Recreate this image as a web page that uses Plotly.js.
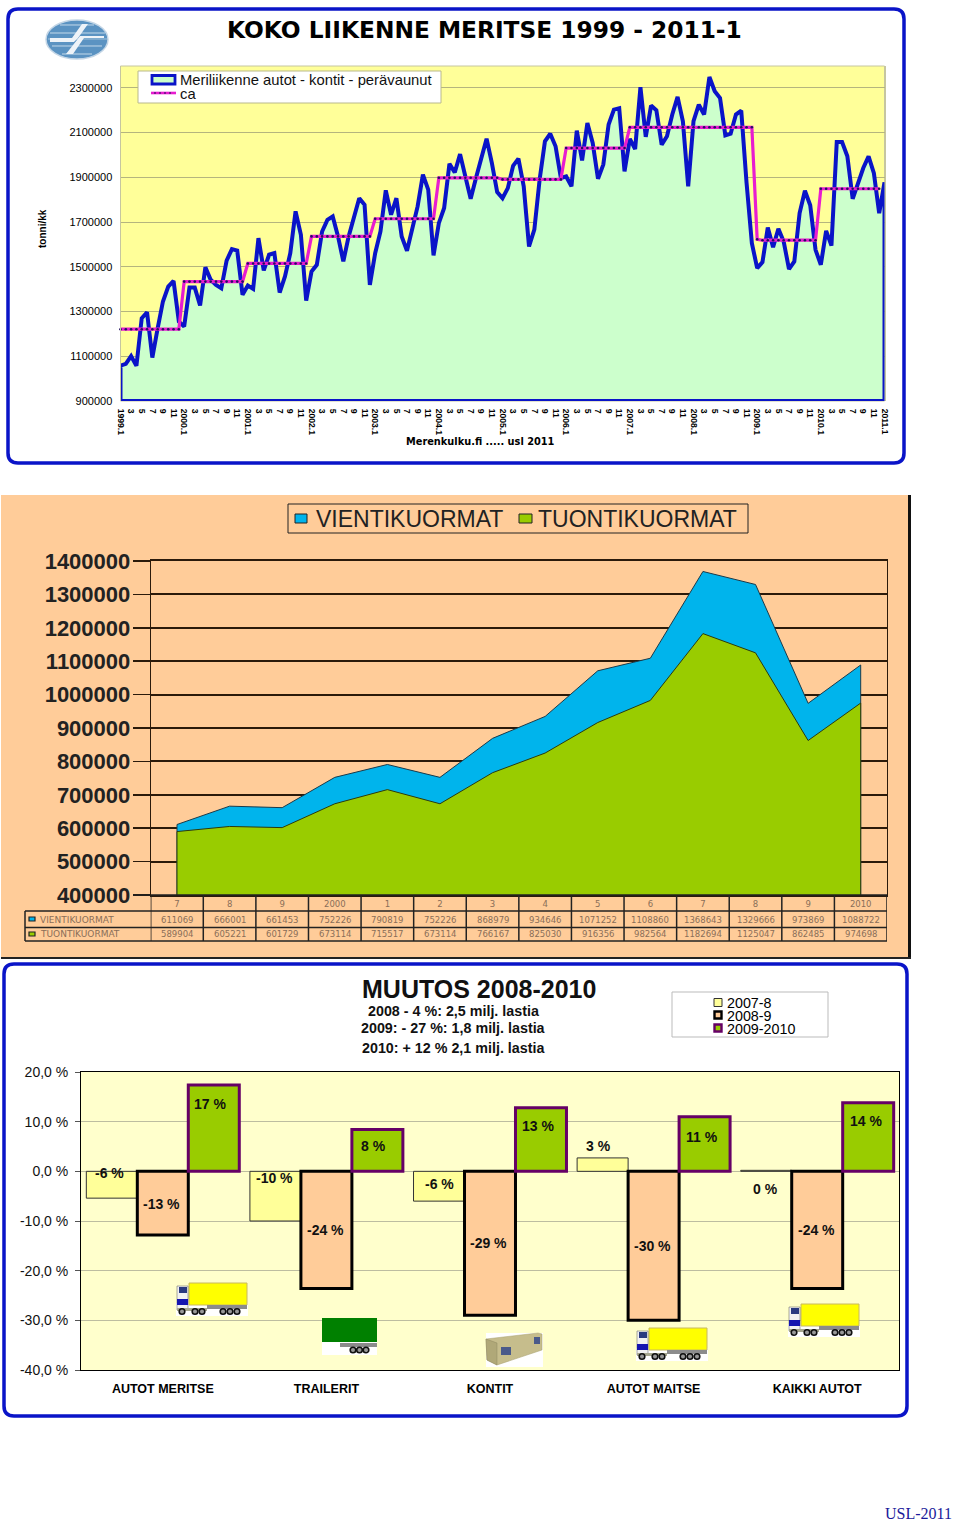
<!DOCTYPE html>
<html><head><meta charset="utf-8">
<script src="https://cdn.plot.ly/plotly-3.0.1.min.js"></script>
<style>html,body{margin:0;padding:0;background:#fff}</style></head>
<body><div id="c" style="width:960px;height:1523px"></div>
<script>
// Chart 1: monthly sea traffic 1999.1 - 2011.1 (tonnes)
const seaTraffic = [
1058000,1066000,1101000,1057000,1270000,1297000,1094000,1225000,1345000,1412000,1437000,1255000,
1233000,1407000,1407000,1327000,1498000,1442000,1419000,1404000,1528000,1579000,1573000,1375000,
1416000,1401000,1628000,1484000,1554000,1561000,1385000,1457000,1561000,1748000,1643000,1349000,
1479000,1509000,1658000,1710000,1725000,1636000,1524000,1636000,1725000,1807000,1778000,1419000,
1561000,1658000,1842000,1733000,1807000,1636000,1572000,1666000,1770000,1912000,1845000,1551000,
1695000,1763000,1961000,1922000,2004000,1904000,1804000,1897000,1987000,2073000,1964000,1834000,
1807000,1852000,1952000,1984000,1860000,1591000,1666000,1890000,2061000,2095000,2039000,1897000,
1904000,1860000,2109000,1976000,2143000,2054000,1894000,1957000,2136000,2203000,2209000,1927000,
2072000,2027000,2303000,2081000,2221000,2200000,2046000,2084000,2181000,2260000,2151000,1860000,
2151000,2225000,2181000,2349000,2285000,2255000,2088000,2095000,2181000,2198000,1875000,1606000,
1494000,1521000,1676000,1588000,1670000,1613000,1490000,1524000,1740000,1840000,1775000,1576000,
1509000,1661000,1595000,2058000,2058000,1994000,1804000,1875000,1942000,1994000,1919000,1740000,
1878000];
const yearAverage = [
1221000,1221000,1221000,1221000,1221000,1221000,1221000,1221000,1221000,1221000,1221000,1221000,
1434000,1434000,1434000,1434000,1434000,1434000,1434000,1434000,1434000,1434000,1434000,1434000,
1515000,1515000,1515000,1515000,1515000,1515000,1515000,1515000,1515000,1515000,1515000,1515000,
1636000,1636000,1636000,1636000,1636000,1636000,1636000,1636000,1636000,1636000,1636000,1636000,
1715000,1715000,1715000,1715000,1715000,1715000,1715000,1715000,1715000,1715000,1715000,1715000,
1898000,1898000,1898000,1898000,1898000,1898000,1898000,1898000,1898000,1898000,1898000,1898000,
1891000,1891000,1891000,1891000,1891000,1891000,1891000,1891000,1891000,1891000,1891000,1891000,
2031000,2031000,2031000,2031000,2031000,2031000,2031000,2031000,2031000,2031000,2031000,2031000,
2124000,2124000,2124000,2124000,2124000,2124000,2124000,2124000,2124000,2124000,2124000,2124000,
2124000,2124000,2124000,2124000,2124000,2124000,2124000,2124000,2124000,2124000,2124000,2124000,
1623000,1619000,1619000,1619000,1619000,1619000,1619000,1619000,1619000,1619000,1619000,1619000,
1849000,1849000,1849000,1849000,1849000,1849000,1849000,1849000,1849000,1849000,1849000,1849000];
const monthTickLabels = [
"1999.1","3","5","7","9","11","2000.1","3","5","7","9","11","2001.1","3","5","7","9","11",
"2002.1","3","5","7","9","11","2003.1","3","5","7","9","11","2004.1","3","5","7","9","11",
"2005.1","3","5","7","9","11","2006.1","3","5","7","9","11","2007.1","3","5","7","9","11",
"2008.1","3","5","7","9","11","2009.1","3","5","7","9","11","2010.1","3","5","7","9","11","2011.1"];
const monthTickVals = [
0,2,4,6,8,10,12,14,16,18,20,22,24,26,28,30,32,34,36,38,40,42,44,46,48,50,52,54,56,58,60,62,64,66,68,70,
72,74,76,78,80,82,84,86,88,90,92,94,96,98,100,102,104,106,108,110,112,114,116,118,120,122,124,126,128,130,132,134,136,138,140,142,144];
const seaTicks = [900000,1100000,1300000,1500000,1700000,1900000,2100000,2300000];

// Chart 2: export and import loads
const loadCategories = ["7","8","9","2000","1","2","3","4","5","6","7","8","9","2010"];
const exportLoads = [611069,666001,661453,752226,790819,752226,868979,934646,1071252,1108860,1368643,1329666,973869,1088722];
const importLoads = [589904,605221,601729,673114,715517,673114,766167,825030,916356,982564,1182694,1125047,862485,974698];
const loadTicks = [400000,500000,600000,700000,800000,900000,1000000,1100000,1200000,1300000,1400000];

// Chart 3: yearly change by cargo type
const changeCategories = ["AUTOT MERITSE","TRAILERIT","KONTIT","AUTOT MAITSE","KAIKKI AUTOT"];
const change2007 = [-5.4,-10,-6,2.7,0.2];
const change2008 = [-12.8,-23.6,-29,-30,-23.6];
const change2009 = [17.4,8.4,12.8,11,13.8];
const changeTicks = [-40,-30,-20,-10,0,10,20];
const changeTickText = ["-40,0 %","-30,0 %","-20,0 %","-10,0 %","0,0 %","10,0 %","20,0 %"];

const W=960,H=1523;
const X=x=>x/W, Y=y=>1-y/H;
const AR='Liberation Sans, Arial, sans-serif';
const shapes=[], ann=[];
const idx=seaTraffic.map((_,i)=>i);
const idxA=yearAverage.map((_,i)=>i);
const lastI=idx[idx.length-1];
const base1=seaTicks[0];
const li=loadCategories.map((_,i)=>i);
const base2=loadTicks[0];

function rrect(x0,y0,x1,y1,r,line,w,fill,layer){
  const p=(x,y)=>X(x).toFixed(5)+','+Y(y).toFixed(5);
  const d='M'+p(x0+r,y0)+'L'+p(x1-r,y0)+'Q'+p(x1,y0)+' '+p(x1,y0+r)+'L'+p(x1,y1-r)+'Q'+p(x1,y1)+' '+p(x1-r,y1)+
    'L'+p(x0+r,y1)+'Q'+p(x0,y1)+' '+p(x0,y1-r)+'L'+p(x0,y0+r)+'Q'+p(x0,y0)+' '+p(x0+r,y0)+'Z';
  shapes.push({type:'path',xref:'paper',yref:'paper',path:d,line:{color:line,width:w},fillcolor:fill||'rgba(0,0,0,0)',layer:layer||'below'});
}
function rect(x0,y0,x1,y1,fill,line,w,layer){
  shapes.push({type:'rect',xref:'paper',yref:'paper',x0:X(x0),x1:X(x1),y0:Y(y0),y1:Y(y1),fillcolor:fill,
    line:{color:line||'rgba(0,0,0,0)',width:line?(w||1):0},layer:layer||'above'});
}
function circ(cx,cy,r,fill,line,w,ry){
  ry=ry||r;
  shapes.push({type:'circle',xref:'paper',yref:'paper',x0:X(cx-r),x1:X(cx+r),y0:Y(cy-ry),y1:Y(cy+ry),fillcolor:fill,
    line:{color:line||'rgba(0,0,0,0)',width:line?(w||1):0},layer:'above'});
}
function poly(pts,fill,line,w){
  const d='M'+pts.map(p=>X(p[0]).toFixed(5)+','+Y(p[1]).toFixed(5)).join('L')+(fill?'Z':'');
  shapes.push({type:'path',xref:'paper',yref:'paper',path:d,fillcolor:fill||'rgba(0,0,0,0)',
    line:{color:line||'rgba(0,0,0,0)',width:line?(w||1):0},layer:'above'});
}
function txt(x,y,t,size,o){
  o=o||{};
  ann.push({xref:'paper',yref:'paper',x:X(x),y:Y(y),text:t,showarrow:false,xanchor:o.a||'center',yanchor:'middle',
    textangle:o.rot||0,align:o.a||'center',
    font:{family:o.f||AR,size:size,color:o.c||'#000',weight:o.b?700:400}});
}
function truck(ox,oy){
  rect(ox,oy+20,ox+72,oy+33,'#ffffff');
  rect(ox+13,oy,ox+71,oy+22,'#FFFF00','#c8b860',1);
  rect(ox+1,oy+3,ox+12,oy+27,'#f2f2f2','#555',.5);
  rect(ox+3,oy+4,ox+11,oy+10,'#2a3a80');
  rect(ox+1,oy+16,ox+12,oy+22,'#1515b0');
  rect(ox+31,oy+22,ox+71,oy+26,'#8c8c8c');
  rect(ox+1,oy+25,ox+31,oy+28,'#a8a890');
  [6,19,26,47,54,61].forEach(d=>circ(ox+d,oy+28.5,2.8,'#999','#111',1.6));
}

// frames and panels
rect(120.5,66,884.5,401,'#FFFF99','#c6c6a0',1,'below');
rrect(8,9,904,463,10,'#0A14C8',3.5);
rect(1,495,909,957,'#FFCC99',null,0,'below');
rect(908,495,911,958,'#111',null,0,'below');
rect(1,957,911,959,'#222',null,0,'below');
rect(81,1072,899,1370,'#FFFFCC',null,0,'below');
rrect(4,964,907,1416,10,'#0A14C8',3.5);

// logo
circ(77,39.5,31,'#5B93C2','#c4d6e6',1.5,19.5);
poly([[50,33],[105,33]],null,'#c4daea',1);
poly([[48,39],[107,39]],null,'#b4cee2',.8);
poly([[52,46],[102,46]],null,'#c4daea',1);
poly([[60,25],[94,25]],null,'#c4daea',1);
poly([[62,54],[92,54]],null,'#c4daea',1);
poly([[50,38],[72,38],[82,24],[88,24],[78,38],[74,42],[50,42]],'#eef3f8');
poly([[104,38],[84,38],[73,54],[66,54],[77,40],[80,36],[104,36]],'#eef3f8');

// chart 1 texts
txt(484,29,'KOKO LIIKENNE MERITSE 1999 - 2011-1',23.3,{b:1,f:'DejaVu Sans, sans-serif'});
txt(43,229,'tonni/kk',10,{b:1,rot:-90});
txt(480,441,'Merenkulku.fi ..... usl 2011',9.8,{b:1,f:'DejaVu Sans, sans-serif'});
rect(138,71,441,103,'#ffffff','#b9b98c',1);
rect(152,75.5,175,84,'#CCFFCC','#0A14C8',2.8);
poly([[151,93],[176,93]],null,'#E81CD0',2.6);
for (const gx of [155,160,165,170]) rect(gx-.7,92.3,gx+.7,93.7,'#221060');
txt(178,80,'Meriliikenne autot - kontit - perävaunut',14.8,{a:'left',c:'#111'});
txt(178,94,'ca',14.8,{a:'left',c:'#111'});

// chart 2 legend
rect(288,504,748,533,'#FFCC99','#222',1);
rect(295,514,307,523,'#00B4EC','#222',1);
txt(314,518.5,'VIENTIKUORMAT',23,{a:'left',c:'#222'});
rect(519,514,532,523,'#99CC00','#222',1);
txt(536,518.5,'TUONTIKUORMAT',23,{a:'left',c:'#222'});

// chart 2 table
const TC='#222';
const rowY=[895,911,927.5,941];
rowY.forEach((y,i)=>{
  shapes.push({type:'line',xref:'paper',yref:'paper',x0:X(i===0?150.7:25),x1:X(887),y0:Y(y),y1:Y(y),line:{color:TC,width:1.5},layer:'above'});
});
shapes.push({type:'line',xref:'paper',yref:'paper',x0:X(25),x1:X(25),y0:Y(911),y1:Y(941),line:{color:TC,width:1.5},layer:'above'});
shapes.push({type:'line',xref:'paper',yref:'paper',x0:X(133),x1:X(150),y0:Y(895),y1:Y(895),line:{color:TC,width:1.5},layer:'above'});
for(let i=0;i<=loadCategories.length;i++){
  shapes.push({type:'line',xref:'x2',yref:'paper',x0:i-.5,x1:i-.5,y0:Y(895),y1:Y(941),line:{color:TC,width:1.5},layer:'above'});
}
const tblC='#8a6e58', tblF='DejaVu Sans, sans-serif';
rect(29,917,35,921,'#00B4EC','#222',1.2);
rect(29,932,35,936,'#99CC00','#222',1.2);
txt(38,919.5,'VIENTIKUORMAT',9,{a:'left',c:tblC,f:tblF});
txt(38,934.5,'TUONTIKUORMAT',9,{a:'left',c:tblC,f:tblF});
exportLoads.forEach((v,i)=>ann.push({xref:'x2',yref:'paper',x:i,y:Y(919.5),text:String(v),showarrow:false,font:{family:tblF,size:8.5,color:tblC}}));
importLoads.forEach((v,i)=>ann.push({xref:'x2',yref:'paper',x:i,y:Y(934.5),text:String(v),showarrow:false,font:{family:tblF,size:8.5,color:tblC}}));

// chart 3 texts
txt(479,988.5,'MUUTOS 2008-2010',25,{b:1,c:'#111'});
txt(454,1010.5,'2008 - 4 %: 2,5 milj. lastia',14.3,{b:1,c:'#111'});
txt(453,1028,'2009: - 27 %: 1,8 milj. lastia',14.3,{b:1,c:'#111'});
txt(453,1048,'2010: + 12 % 2,1 milj. lastia',14.3,{b:1,c:'#111'});
rect(672,992,828,1037,'#ffffff','#bbbbbb',1);
rect(714,998.5,722,1006.5,'#FFFF99','#333',1);
rect(714.5,1011.5,721.5,1018.5,'#FFCC99','#000',2.4);
rect(714.5,1024.5,721.5,1031.5,'#99CC00','#660066',2.4);
txt(725,1003,'2007-8',14.3,{a:'left'});
txt(725,1016,'2008-9',14.3,{a:'left'});
txt(725,1029,'2009-2010',14.3,{a:'left'});
const barLabels=[[109,1173,'-6 %'],[161,1204,'-13 %'],[210,1104,'17 %'],[274,1178,'-10 %'],[325,1230,'-24 %'],[373,1146,'8 %'],
 [439,1184,'-6 %'],[488,1243,'-29 %'],[538,1126,'13 %'],[598,1146,'3 %'],[652,1246,'-30 %'],[702,1137,'11 %'],[765,1189,'0 %'],[816,1230,'-24 %'],[866,1121,'14 %']];
barLabels.forEach(l=>txt(l[0],l[1],l[2],14,{b:1,c:'#111'}));
txt(918,1513,'USL-2011',16,{f:'Liberation Serif, serif',c:'#1A1A9A'});

// pictures
truck(176,1283); truck(636,1328); truck(788,1304);
rect(322,1342,377,1355,'#ffffff');
rect(322,1318,377,1342,'#008000');
rect(340,1343,377,1347,'#8c8c8c');
[353,359.5,366].forEach(x=>circ(x,1350,2.8,'#999','#111',1.6));
rect(486,1333,543,1367,'#ffffff');
poly([[486,1339],[538,1333],[542,1334],[542,1350],[497,1365],[487,1360]],'#C6BD8C','#a8a070',.5);
poly([[486,1339],[497,1343],[497,1365],[487,1360]],'#B0A878','#8e8860',.5);
rect(501,1347,511,1355,'#4a5a8a');
rect(534,1337,540,1344,'#4a5a8a');

const traces=[
 {type:'scatter',mode:'lines',xaxis:'x',yaxis:'y',name:'Meriliikenne autot - kontit - perävaunut',
  x:[idx[0]].concat(idx,[lastI,idx[0]]),y:[base1].concat(seaTraffic,[base1,base1]),fill:'toself',fillcolor:'#CCFFCC',
  line:{color:'#0A14C8',width:4,shape:'linear'},cliponaxis:false,hoverinfo:'skip'},
 {type:'scatter',mode:'lines+markers',xaxis:'x',yaxis:'y',name:'ca',x:idxA,y:yearAverage,
  line:{color:'#E81CD0',width:3.2},marker:{color:'#221060',size:2.6},cliponaxis:false,hoverinfo:'skip'},
 {type:'scatter',mode:'lines',xaxis:'x2',yaxis:'y2',name:'VIENTIKUORMAT',
  x:[li[0]].concat(li,[li[li.length-1]]),y:[base2].concat(exportLoads,[base2]),fill:'toself',fillcolor:'#00B4EC',
  line:{color:'#1a3a4a',width:1},hoverinfo:'skip'},
 {type:'scatter',mode:'lines',xaxis:'x2',yaxis:'y2',name:'TUONTIKUORMAT',
  x:[li[0]].concat(li,[li[li.length-1]]),y:[base2].concat(importLoads,[base2]),fill:'toself',fillcolor:'#99CC00',
  line:{color:'#2a3a10',width:1},hoverinfo:'skip'},
 {type:'bar',xaxis:'x3',yaxis:'y3',name:'2007-8',x:changeCategories,y:change2007,marker:{color:'#FFFF99',line:{color:'#333',width:1}},hoverinfo:'skip'},
 {type:'bar',xaxis:'x3',yaxis:'y3',name:'2008-9',x:changeCategories,y:change2008,marker:{color:'#FFCC99',line:{color:'#000',width:3}},hoverinfo:'skip'},
 {type:'bar',xaxis:'x3',yaxis:'y3',name:'2009-2010',x:changeCategories,y:change2009,marker:{color:'#99CC00',line:{color:'#660066',width:3}},hoverinfo:'skip'}
];
const transparent='rgba(0,0,0,0)';
const layout={
 width:W,height:H,margin:{l:0,r:0,t:0,b:0},paper_bgcolor:'#fff',plot_bgcolor:transparent,showlegend:false,
 barmode:'group',bargap:.065,bargroupgap:0,shapes:shapes,annotations:ann,
 font:{family:AR,color:'#000'},
 xaxis:{domain:[X(120.5),X(884.5)],range:[0,144],anchor:'y',tickmode:'array',tickvals:monthTickVals,ticktext:monthTickLabels,
  tickangle:90,tickfont:{size:8.6,family:AR,weight:700},showgrid:false,zeroline:false,ticks:'outside',ticklen:5,tickcolor:transparent,showline:false},
 yaxis:{domain:[Y(401),Y(66)],range:[900000,2398000],anchor:'x',tickmode:'array',tickvals:seaTicks,tickformat:'d',
  tickfont:{size:11,family:AR},gridcolor:'#B5B57E',gridwidth:1,zeroline:false,ticks:'outside',ticklen:5,tickcolor:transparent,
  showline:true,mirror:true,linecolor:'#c6c6a0',linewidth:1},
 xaxis2:{domain:[X(150.7),X(887)],range:[-.5,13.5],anchor:'y2',tickmode:'array',tickvals:li,ticktext:loadCategories,
  tickfont:{size:8.5,family:tblF,color:tblC},showgrid:false,zeroline:false,ticks:'',showline:true,mirror:true,linecolor:'#2b1a0a',linewidth:2,tickangle:0},
 yaxis2:{domain:[Y(895),Y(561)],range:[400000,1400000],anchor:'x2',tickmode:'array',tickvals:loadTicks,tickformat:'d',
  tickfont:{size:22,family:AR,weight:700,color:'#222'},gridcolor:'#2b1a0a',gridwidth:2,zeroline:false,ticks:'outside',ticklen:17,tickcolor:'#2b1a0a',tickwidth:1.5,ticklabelstandoff:-2,
  showline:true,mirror:true,linecolor:'#2b1a0a',linewidth:1},
 xaxis3:{domain:[X(81),X(899)],anchor:'y3',type:'category',tickfont:{size:12.5,family:AR,weight:700},showgrid:false,zeroline:false,
  ticks:'outside',ticklen:7,tickcolor:transparent,showline:true,mirror:true,linecolor:'#000',linewidth:1,tickangle:0},
 yaxis3:{domain:[Y(1370),Y(1072)],range:[-40,20],anchor:'x3',tickmode:'array',tickvals:changeTicks,ticktext:changeTickText,
  tickfont:{size:14,family:AR,color:'#111'},gridcolor:'#BDBDA0',gridwidth:1,zeroline:true,zerolinecolor:'#BDBDA0',zerolinewidth:1,
  ticks:'outside',ticklen:5,tickcolor:'#555',ticklabelstandoff:4,showline:true,mirror:true,linecolor:'#000',linewidth:1}
};
Plotly.newPlot('c',traces,layout,{displayModeBar:false,staticPlot:true});
</script></body></html>
